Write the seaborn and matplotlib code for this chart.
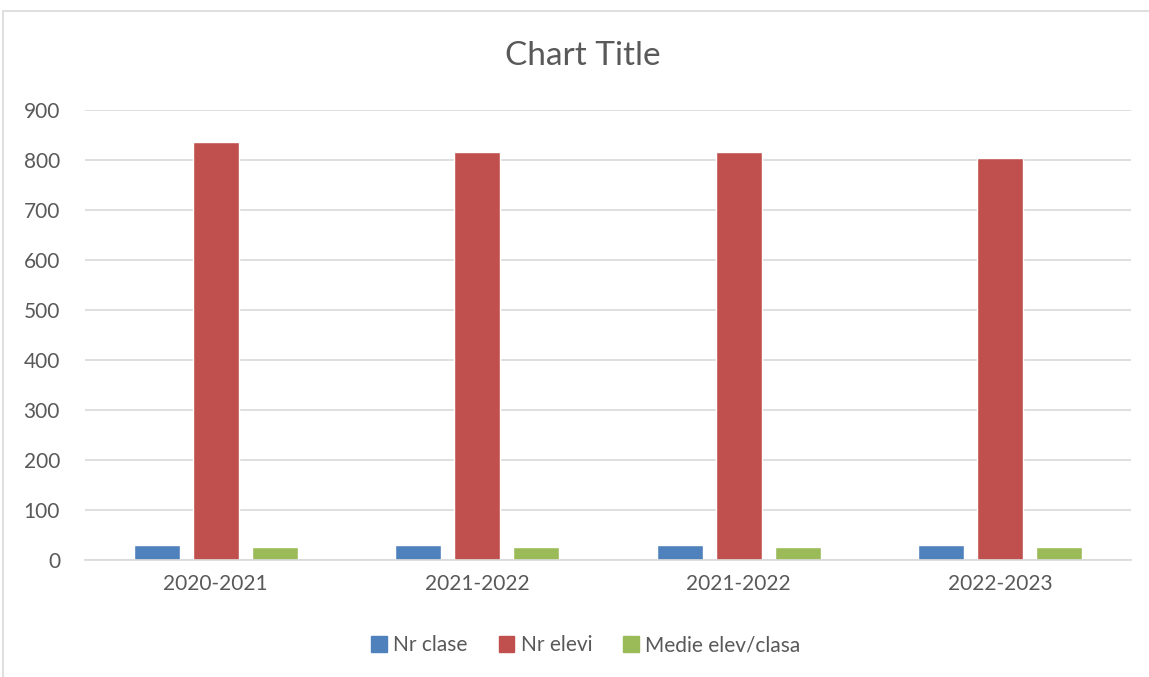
import matplotlib
matplotlib.use("Agg")
import matplotlib.pyplot as plt
import matplotlib.patches as mpatches
import pandas as pd
import seaborn as sns

ani = ["2020-2021", "2021-2022", "2021-2022 ", "2022-2023"]
nr_clase = [30, 30, 30, 31]
nr_elevi = [836, 816, 816, 804]
medie = [27, 27, 27, 26]
serii = ["Nr clase", "Nr elevi", "Medie elev/clasa"]
culori = ["#4f81bd", "#c0504d", "#9bbb59"]

df = pd.DataFrame({
    "an": ani * 3,
    "valoare": nr_clase + nr_elevi + medie,
    "serie": [serii[0]] * 4 + [serii[1]] * 4 + [serii[2]] * 4,
})

sns.set_style("white")
plt.rcParams["font.family"] = ["Lato", "DejaVu Sans"]
gri = "#595959"

fig = plt.figure(figsize=(11.49, 6.77), dpi=100)
ax = fig.add_axes([0.074, 0.1728, 0.91, 0.6647])

sns.barplot(data=df, x="an", y="valoare", hue="serie", hue_order=serii,
            palette=culori, width=0.677, gap=0.22, ax=ax, saturation=1,
            legend=False)

ax.set_ylim(0, 900)
ax.set_yticks(range(0, 901, 100))
ax.grid(axis="y", color="#d9d9d9", linewidth=1.2)
ax.set_axisbelow(True)
for s in ["top", "right", "left"]:
    ax.spines[s].set_visible(False)
ax.spines["bottom"].set_color("#d9d9d9")
ax.spines["bottom"].set_linewidth(1.2)
ax.set_xlabel("")
ax.set_ylabel("")
ax.tick_params(axis="both", length=0, labelsize=15, colors=gri, pad=10)
ax.tick_params(axis="y", pad=18)
ax.set_xticks(range(4))
ax.set_xticklabels([a.strip() for a in ani])

fig.text(0.507, 0.918, "Chart Title", ha="center", va="center",
         fontsize=24, color=gri)

handles = [mpatches.Patch(color=c, label=s) for c, s in zip(culori, serii)]
leg = fig.legend(handles=handles, loc="center", bbox_to_anchor=(0.51, 0.047),
                 ncol=3, frameon=False, fontsize=15, handlelength=0.75,
                 handleheight=0.75, handletextpad=0.3, columnspacing=1.5)
for t in leg.get_texts():
    t.set_color(gri)

border = mpatches.Rectangle((0.003, -0.1), 1.2, 1.084, transform=fig.transFigure,
                            fill=False, edgecolor="#d9d9d9", linewidth=1.2)
fig.patches.append(border)

fig.savefig("out.png", dpi=100)
